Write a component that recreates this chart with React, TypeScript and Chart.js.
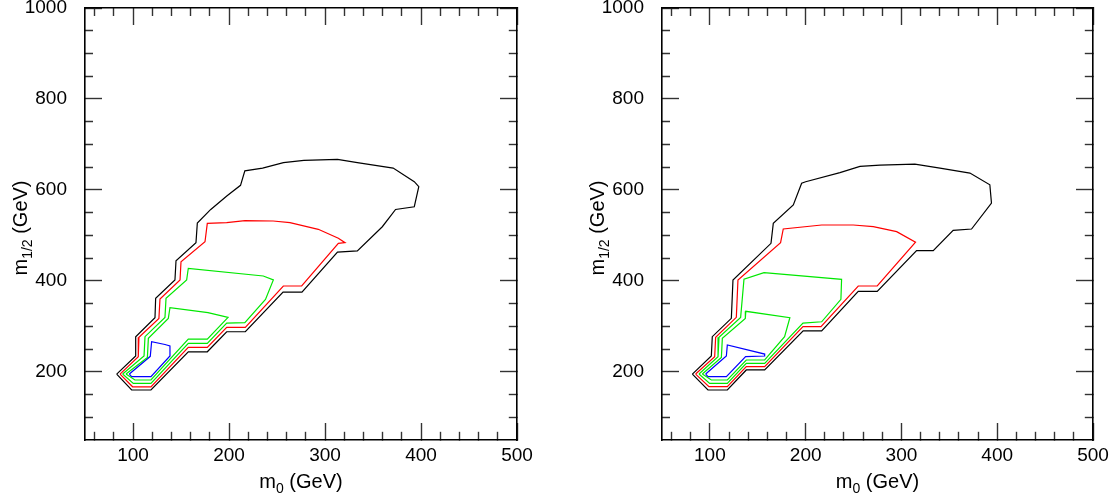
import React, { useEffect, useRef } from 'react';
import { Chart, registerables } from 'chart.js';

Chart.register(...registerables);

type Pt = [number, number];

// ---------- axes ----------
const X_MIN = 50;
const X_MAX = 500;
const Y_MIN = 50;
const Y_MAX = 1000;
const xMajorTicks = [100, 200, 300, 400, 500];
const xMinorTicks = [60, 80, 120, 140, 160, 180, 220, 240, 260, 280, 320, 340, 360, 380, 420, 440, 460, 480];
const yMajorTicks = [200, 400, 600, 800, 1000];
const yMinorTicks = [100, 150, 250, 300, 350, 450, 500, 550, 650, 700, 750, 850, 900, 950];

const xTitle = { main: 'm', sub: '0', rest: ' (GeV)' };
const yTitle = { main: 'm', sub: '1/2', rest: ' (GeV)' };

// ---------- left panel contours (m0, m1/2) ----------
const leftBlack: Pt[] = [
  [83, 195], [98.6, 160], [118.7, 160], [157.6, 244], [177.4, 244], [197.6, 288], [217, 288],
  [256.3, 375], [276, 375], [313, 463], [333.7, 466], [359.7, 519], [373.5, 557], [393, 563],
  [397.7, 607], [393, 618], [371, 648], [333.7, 660], [313, 667], [278, 665], [256.7, 660],
  [235, 648], [216.5, 642], [212, 610], [198, 587], [181, 557], [167, 527], [165.6, 484],
  [144.8, 444], [143.7, 402], [123.6, 361.5], [122.9, 319], [102.8, 277], [102.8, 235], [83, 195],
];
const leftRed: Pt[] = [
  [86.5, 195], [99.6, 167], [118.7, 167], [157.6, 253.7], [177.4, 253.7], [197.6, 297.7], [217, 297.7],
  [256.6, 388.7], [275.7, 388.7], [313.9, 482.6], [320.8, 484], [313.9, 493.6], [293, 513.3],
  [263.5, 528], [246, 531.6], [216.7, 532.3], [197.6, 528], [177.4, 526.5], [175, 486], [150, 442],
  [149, 401.8], [128.1, 360], [127, 317.5], [106.2, 275.7], [105.5, 233.2], [86.5, 195],
];
const leftGreenOuter: Pt[] = [
  [89.2, 195], [100.3, 174.6], [118.7, 174.6], [157.6, 262.5], [177.4, 262.5], [197.6, 307],
  [216.5, 308], [238, 359], [246.2, 402], [235.7, 410.7], [157.6, 427.6], [155.9, 402],
  [134.4, 361.5], [133.3, 319.7], [112.5, 277.2], [111.5, 234.7], [89.2, 195],
];
const leftGreenInner: Pt[] = [
  [92.7, 195], [102, 181.9], [118.7, 181.9], [157.6, 272], [177.4, 272], [199, 319.5],
  [178.1, 330], [138.5, 341], [136.8, 317.5], [116, 273.5], [115, 231.7], [92.7, 195],
];
const leftBlue: Pt[] = [
  [96.2, 195], [98.6, 189.2], [118.7, 189.2], [138.5, 234.7], [138.5, 257], [133.3, 260],
  [119.4, 266], [118, 234], [96.2, 195],
];

// ---------- right panel contours ----------
const rightBlack: Pt[] = [
  [81.7, 195], [98, 160], [118.2, 160], [138, 204], [157.2, 204], [197.4, 290], [216.7, 290],
  [254.9, 377], [274.7, 377], [315.8, 466.5], [333.2, 466.5], [354, 511], [373.2, 514], [394, 571],
  [392.3, 611.3], [371.5, 637], [340.2, 648], [314, 656.7], [277.6, 654.5], [256.7, 651.6],
  [235.8, 638], [200, 618], [195.8, 614.5], [187.1, 566.8], [166.2, 526.5], [163.8, 482.5],
  [124.1, 401.8], [122.4, 317.5], [102.5, 277.2], [101.5, 234.7], [81.7, 195],
];
const rightRed: Pt[] = [
  [85.1, 195], [99, 167.3], [118.2, 167.3], [138, 211.2], [157.2, 211.2], [197.2, 299.2], [216, 299.2],
  [254.9, 388.7], [274.7, 388.7], [314.7, 485], [295, 508.2], [270.6, 519.2], [249.7, 522.8],
  [216.7, 522.8], [176.6, 514], [173.8, 484], [129.3, 401.8], [127.6, 319.7], [106, 275.7],
  [105, 233.2], [85.1, 195],
];
const rightGreenOuter: Pt[] = [
  [88.6, 195], [99.8, 174.6], [118.2, 174.6], [138, 218.5], [157.2, 218.5], [197.2, 307],
  [216.7, 310], [236.8, 359.4], [237.5, 403.4], [156.5, 418], [135.6, 403.4], [132.1, 319.7],
  [109.5, 275.7], [108.5, 233.2], [88.6, 195],
];
const rightGreenInner: Pt[] = [
  [92.1, 195], [101.5, 181.9], [118.2, 181.9], [138, 225.9], [157.2, 225.9], [178, 277.2],
  [183.5, 319], [137.5, 333], [137, 317.5], [113, 273.5], [112, 231.7], [92.1, 195],
];
const rightBlue: Pt[] = [
  [95.6, 195], [98, 189.2], [117.2, 189.2], [137.3, 233.2], [157.2, 234.7], [157.2, 239],
  [118.2, 258.9], [117.2, 234.7], [95.6, 195],
];

const contourColors = ['#000000', '#ff0000', '#00e800', '#00e800', '#0000ff'];
const leftContours = [leftBlack, leftRed, leftGreenOuter, leftGreenInner, leftBlue];
const rightContours = [rightBlack, rightRed, rightGreenOuter, rightGreenInner, rightBlue];

// ---------- style ----------
const FONT = "'Liberation Sans', Arial, Helvetica, sans-serif";
const TICK_FONT_SIZE = 19;
const TITLE_FONT_SIZE = 20;
const SUB_FONT_SIZE = 14;
const SUB_SHIFT = 5;
const MAJOR_LEN = 17;
const MINOR_LEN = 8;
const BORDER_W = 1.6;
const CANVAS_H = 502;

function tickDash(position: string, isMajor: boolean): number[] {
  if (isMajor) return [];
  if (position === 'bottom' || position === 'right') return [MINOR_LEN + BORDER_W / 2, 400];
  return [0, MAJOR_LEN - MINOR_LEN, 400];
}

function makeScale(axis: 'x' | 'y', position: string, showLabels: boolean) {
  const major = axis === 'x' ? xMajorTicks : yMajorTicks;
  const minor = axis === 'x' ? xMinorTicks : yMinorTicks;
  const all = [...major, ...minor].sort((a, b) => a - b);
  const majorSet = new Set(major);
  return {
    type: 'linear',
    axis,
    position,
    min: axis === 'x' ? X_MIN : Y_MIN,
    max: axis === 'x' ? X_MAX : Y_MAX,
    afterBuildTicks: (scale: any) => {
      scale.ticks = all.map((v) => ({ value: v }));
    },
    afterFit: (scale: any) => {
      if (position === 'bottom') scale.height = 62;
      else if (position === 'top') scale.height = 0;
      else if (position === 'left') scale.width = 85;
      else scale.width = 0;
      scale.paddingTop = 0;
      scale.paddingBottom = 0;
      scale.paddingLeft = 0;
      scale.paddingRight = 0;
    },
    border: { display: true, color: '#000', width: BORDER_W },
    grid: {
      display: true,
      drawOnChartArea: false,
      drawTicks: true,
      tickLength: -MAJOR_LEN,
      tickColor: '#333',
      tickWidth: 1.4,
      tickBorderDash: (ctx: any) => tickDash(position, majorSet.has(ctx.tick ? ctx.tick.value : -1)),
    },
    ticks: {
      display: showLabels,
      autoSkip: false,
      maxRotation: 0,
      minRotation: 0,
      padding: axis === 'x' ? 21 : 35,
      color: '#000',
      font: { family: FONT, size: TICK_FONT_SIZE },
      callback: (v: number) => (majorSet.has(v) ? String(v) : ''),
    },
  };
}

function drawTitle(ctx: CanvasRenderingContext2D, t: { main: string; sub: string; rest: string }, cx: number, baseline: number) {
  const mainFont = `${TITLE_FONT_SIZE}px ${FONT}`;
  const subFont = `${SUB_FONT_SIZE}px ${FONT}`;
  ctx.font = mainFont;
  const w1 = ctx.measureText(t.main).width;
  const w3 = ctx.measureText(t.rest).width;
  ctx.font = subFont;
  const w2 = ctx.measureText(t.sub).width;
  let x = cx - (w1 + w2 + w3) / 2;
  ctx.textAlign = 'left';
  ctx.textBaseline = 'alphabetic';
  ctx.font = mainFont;
  ctx.fillText(t.main, x, baseline);
  x += w1;
  ctx.font = subFont;
  ctx.fillText(t.sub, x, baseline + SUB_SHIFT);
  x += w2;
  ctx.font = mainFont;
  ctx.fillText(t.rest, x, baseline);
}

const titlesPlugin = {
  id: 'axisTitles',
  afterDraw(chart: any) {
    const { ctx, chartArea } = chart;
    ctx.save();
    ctx.fillStyle = '#000';
    const cx = (chartArea.left + chartArea.right) / 2;
    drawTitle(ctx, xTitle, cx, chartArea.bottom + 48);
    ctx.translate(chartArea.left - 58, (chartArea.top + chartArea.bottom) / 2 + 4);
    ctx.rotate(-Math.PI / 2);
    drawTitle(ctx, yTitle, 0, 0);
    ctx.restore();
  },
};

function Panel({ contours, left, width, padRight }: { contours: Pt[][]; left: number; width: number; padRight: number }) {
  const ref = useRef<HTMLCanvasElement | null>(null);
  useEffect(() => {
    if (!ref.current) return;
    const chart = new Chart(ref.current, {
      type: 'scatter',
      data: {
        datasets: contours.map((c, i) => ({
          data: c.map(([x, y]) => ({ x, y })),
          showLine: true,
          borderColor: contourColors[i],
          backgroundColor: contourColors[i],
          borderWidth: 1.2,
          pointRadius: 0,
          pointHoverRadius: 0,
          tension: 0,
          fill: false,
        })),
      },
      options: {
        animation: false,
        responsive: false,
        devicePixelRatio: 1,
        events: [],
        layout: { autoPadding: false, padding: { left: 0, right: padRight, top: 8, bottom: 0 } },
        plugins: { legend: { display: false }, tooltip: { enabled: false }, title: { display: false } },
        scales: {
          x: makeScale('x', 'bottom', true),
          x2: makeScale('x', 'top', false),
          y: makeScale('y', 'left', true),
          y2: makeScale('y', 'right', false),
        } as any,
      } as any,
      plugins: [titlesPlugin],
    });
    return () => chart.destroy();
  }, []);
  return (
    <canvas
      ref={ref}
      width={width}
      height={CANVAS_H}
      style={{ position: 'absolute', left, top: 0, width, height: CANVAS_H, display: 'block' }}
    />
  );
}

export default function App() {
  return (
    <div style={{ position: 'absolute', left: 0, top: 0, width: 1114, height: 502, overflow: 'hidden', background: '#fff' }}>
      <Panel contours={leftContours} left={0} width={557} padRight={40} />
      <Panel contours={rightContours} left={577} width={537} padRight={21} />
    </div>
  );
}
